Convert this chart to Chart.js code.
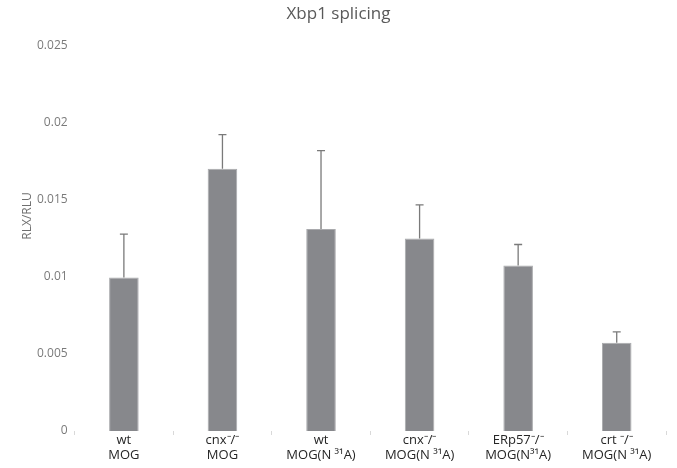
<!DOCTYPE html>
<html>
<head>
<meta charset="utf-8">
<script src="https://cdn.jsdelivr.net/npm/chart.js@4/dist/chart.umd.min.js"></script>
<style>
html,body{margin:0;padding:0;background:#fff;}
#wrap{width:677px;height:468px;position:relative;}
</style>
</head>
<body>
<div id="wrap"><canvas id="c" width="677" height="468"></canvas></div>
<script>
const chartTitle = 'Xbp1 splicing';
const yAxisTitle = 'RLX/RLU';
const categories = [
  ['wt', 'MOG'],
  ['cnx\u207B/\u207B', 'MOG'],
  ['wt', 'MOG(N \u00B3\u00B9A)'],
  ['cnx\u207B/\u207B', 'MOG(N \u00B3\u00B9A)'],
  ['ERp57\u207B/\u207B', 'MOG(N\u00B3\u00B9A)'],
  ['crt \u207B/\u207B', 'MOG(N \u00B3\u00B9A)']
];
const values = [0.00995, 0.0170, 0.0131, 0.01248, 0.01073, 0.00572];
const errors = [0.00281, 0.00222, 0.00508, 0.00218, 0.00136, 0.00071];
const yMax = 0.025;
const yStep = 0.005;

const errorBarPlugin = {
  id: 'errorBars',
  afterDatasetsDraw(chart) {
    const ctx = chart.ctx;
    const meta = chart.getDatasetMeta(0);
    const y = chart.scales.y;
    ctx.save();
    ctx.strokeStyle = '#7a7a7a';
    ctx.lineWidth = 1.3;
    meta.data.forEach((bar, i) => {
      const x = bar.x;
      const yTop = y.getPixelForValue(values[i] + errors[i]);
      const yBase = y.getPixelForValue(values[i]);
      ctx.beginPath();
      ctx.moveTo(x, yBase);
      ctx.lineTo(x, yTop);
      ctx.moveTo(x - 4, yTop);
      ctx.lineTo(x + 4, yTop);
      ctx.stroke();
    });
    ctx.restore();
  }
};

// Y axis title, placed as in the reference (slightly above the axis centre)
const yTitlePlugin = {
  id: 'yTitle',
  afterDraw(chart) {
    const ctx = chart.ctx;
    ctx.save();
    ctx.translate(28, 216);
    ctx.rotate(-Math.PI / 2);
    ctx.fillStyle = '#6f6f6f';
    ctx.font = '12px "Open Sans"';
    ctx.textAlign = 'center';
    ctx.textBaseline = 'middle';
    ctx.fillText(yAxisTitle, 0, 0);
    ctx.restore();
  }
};

new Chart(document.getElementById('c'), {
  type: 'bar',
  data: {
    labels: categories,
    datasets: [{
      data: values,
      backgroundColor: '#87888c',
      borderColor: '#a9aaad',
      borderWidth: 1,
      categoryPercentage: 1.0,
      barPercentage: 0.3
    }]
  },
  plugins: [errorBarPlugin, yTitlePlugin],
  options: {
    responsive: false,
    animation: false,
    devicePixelRatio: 1,
    layout: { padding: { left: 11, right: 11, top: 4, bottom: 0 } },
    plugins: {
      legend: { display: false },
      tooltip: { enabled: false },
      title: {
        display: true,
        text: chartTitle,
        color: '#595959',
        font: { family: 'Open Sans', size: 17, weight: 'normal' },
        padding: { top: 0, bottom: 21 }
      }
    },
    scales: {
      x: {
        offset: true,
        grid: {
          display: true,
          offset: true,
          drawOnChartArea: false,
          drawTicks: true,
          tickLength: 4,
          color: '#d9d9d9'
        },
        border: { display: false },
        ticks: {
          color: '#262626',
          font: { family: 'Open Sans', size: 13, lineHeight: 1.15 },
          padding: -2,
          maxRotation: 0,
          autoSkip: false
        },
        afterFit(scale) { scale.height = 37; }
      },
      y: {
        min: 0,
        max: yMax,
        grid: { display: false, drawTicks: false },
        border: { display: false },
        ticks: {
          stepSize: yStep,
          color: '#7a7a7a',
          font: { family: 'Open Sans', size: 12 },
          padding: 7,
          callback: (v) => String(parseFloat(v.toFixed(3)))
        },
        afterFit(scale) { scale.width = 63.6; }
      }
    }
  }
});
</script>
</body>
</html>
